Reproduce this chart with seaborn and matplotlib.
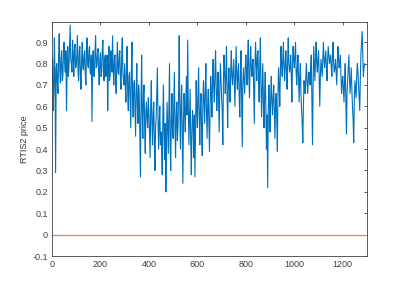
import matplotlib
matplotlib.use("Agg")
import matplotlib.pyplot as plt
import seaborn as sns
import numpy as np

# price: swing values every 5 steps (0 .. 1290)
step = 5
price = [
    0.70, 0.58, 0.92, 0.29, 0.80, 0.66, 0.94, 0.71, 0.86, 0.74,
    0.90, 0.76, 0.58, 0.88, 0.78, 0.98, 0.80, 0.91, 0.74, 0.89,
    0.79, 0.93, 0.72, 0.88, 0.68, 0.90, 0.77, 0.86, 0.70, 0.92,
    0.78, 0.88, 0.75, 0.53, 0.86, 0.74, 0.93, 0.79, 0.87, 0.70,
    0.85, 0.76, 0.91, 0.72, 0.84, 0.78, 0.58, 0.88, 0.74, 0.83,
    0.93, 0.70, 0.84, 0.66, 0.90, 0.75, 0.86, 0.68, 0.92, 0.72,
    0.80, 0.62, 0.88, 0.58, 0.76, 0.50, 0.90, 0.55, 0.72, 0.46,
    0.80, 0.52, 0.66, 0.27, 0.84, 0.45, 0.70, 0.38, 0.62, 0.50,
    0.58, 0.36, 0.72, 0.42, 0.62, 0.30, 0.55, 0.78, 0.40, 0.60,
    0.48, 0.28, 0.70, 0.35, 0.20, 0.62, 0.38, 0.80, 0.30, 0.66,
    0.45, 0.76, 0.36, 0.62, 0.50, 0.93, 0.40, 0.70, 0.24, 0.66,
    0.48, 0.74, 0.91, 0.42, 0.68, 0.28, 0.58, 0.36, 0.27, 0.72,
    0.50, 0.78, 0.42, 0.66, 0.37, 0.72, 0.52, 0.80, 0.45, 0.68,
    0.39, 0.74, 0.55, 0.82, 0.62, 0.86, 0.58, 0.76, 0.48, 0.80,
    0.64, 0.42, 0.84, 0.66, 0.88, 0.50, 0.78, 0.62, 0.86, 0.70,
    0.82, 0.60, 0.88, 0.68, 0.80, 0.55, 0.86, 0.41, 0.78, 0.66,
    0.84, 0.70, 0.91, 0.64, 0.88, 0.74, 0.82, 0.52, 0.90, 0.72,
    0.86, 0.62, 0.92, 0.55, 0.80, 0.50, 0.76, 0.40, 0.22, 0.70,
    0.48, 0.74, 0.56, 0.70, 0.45, 0.66, 0.39, 0.78, 0.60, 0.88,
    0.74, 0.90, 0.72, 0.86, 0.68, 0.92, 0.76, 0.84, 0.62, 0.88,
    0.78, 0.90, 0.70, 0.84, 0.62, 0.80, 0.58, 0.43, 0.72, 0.66,
    0.80, 0.66, 0.76, 0.70, 0.84, 0.42, 0.88, 0.72, 0.90, 0.76,
    0.86, 0.60, 0.82, 0.74, 0.90, 0.78, 0.86, 0.72, 0.88, 0.80,
    0.84, 0.74, 0.90, 0.76, 0.82, 0.70, 0.88, 0.78, 0.84, 0.66,
    0.74, 0.62, 0.80, 0.47, 0.72, 0.84, 0.66, 0.78, 0.60, 0.43,
    0.72, 0.64, 0.80, 0.70, 0.58, 0.85, 0.95, 0.74, 0.80,
]
# in-between values from the dense core of the trace (2.5 steps after each swing value)
core = [
    0.82, 0.68, 0.74, 0.78, 0.70, 0.84, 0.76, 0.82, 0.72, 0.85,
    0.80, 0.86, 0.78, 0.74, 0.88, 0.82, 0.76, 0.84, 0.86, 0.78,
    0.84, 0.76, 0.86, 0.74, 0.82, 0.78, 0.84, 0.75, 0.86, 0.80,
    0.86, 0.76, 0.84, 0.80, 0.74, 0.86, 0.78, 0.84, 0.76, 0.82,
    0.74, 0.86, 0.78, 0.82, 0.74, 0.84, 0.78, 0.72, 0.86, 0.76,
    0.78, 0.82, 0.72, 0.80, 0.76, 0.84, 0.72, 0.82, 0.76, 0.70,
    0.70, 0.78, 0.66, 0.74, 0.62, 0.76, 0.64, 0.70, 0.58, 0.68,
    0.60, 0.70, 0.48, 0.62, 0.56, 0.66, 0.50, 0.58, 0.54, 0.64,
    0.46, 0.60, 0.52, 0.56, 0.44, 0.50, 0.66, 0.54, 0.52, 0.42,
    0.40, 0.56, 0.46, 0.52, 0.44, 0.50, 0.58, 0.42, 0.54, 0.48,
    0.62, 0.50, 0.56, 0.44, 0.66, 0.58, 0.60, 0.46, 0.52, 0.58,
    0.64, 0.56, 0.60, 0.54, 0.44, 0.48, 0.52, 0.56, 0.50, 0.58,
    0.66, 0.56, 0.60, 0.48, 0.60, 0.62, 0.68, 0.58, 0.60, 0.52,
    0.60, 0.66, 0.72, 0.68, 0.76, 0.70, 0.66, 0.62, 0.68, 0.72,
    0.58, 0.72, 0.76, 0.74, 0.66, 0.70, 0.68, 0.76, 0.74, 0.76,
    0.70, 0.76, 0.74, 0.76, 0.64, 0.74, 0.62, 0.70, 0.72, 0.78,
    0.76, 0.82, 0.74, 0.80, 0.78, 0.80, 0.68, 0.78, 0.80, 0.84,
    0.72, 0.80, 0.70, 0.68, 0.62, 0.66, 0.60, 0.56, 0.58, 0.60,
    0.64, 0.62, 0.64, 0.58, 0.60, 0.54, 0.66, 0.70, 0.76, 0.80,
    0.82, 0.78, 0.80, 0.76, 0.82, 0.80, 0.78, 0.74, 0.80, 0.82,
    0.84, 0.76, 0.78, 0.72, 0.74, 0.66, 0.52, 0.60, 0.68, 0.74,
    0.72, 0.72, 0.74, 0.78, 0.62, 0.70, 0.80, 0.82, 0.80, 0.82,
    0.72, 0.74, 0.78, 0.82, 0.82, 0.82, 0.78, 0.82, 0.84, 0.82,
    0.78, 0.84, 0.80, 0.78, 0.76, 0.80, 0.82, 0.80, 0.74, 0.72,
    0.68, 0.72, 0.62, 0.66, 0.78, 0.74, 0.72, 0.68, 0.54, 0.62,
    0.68, 0.74, 0.76, 0.64, 0.74, 0.90, 0.84, 0.78,
]
baseline = [0.0, 0.0]
baseline_x = [0, 1300]

xticks = [0, 200, 400, 600, 800, 1000, 1200]
yticks = [-0.1, 0, 0.1, 0.2, 0.3, 0.4, 0.5, 0.6, 0.7, 0.8, 0.9]
ylabels = ["-0.1", "0", "0.1", "0.2", "0.3", "0.4", "0.5", "0.6", "0.7", "0.8", "0.9"]

# interleave swing and core readings
series = []
xs = []
for i, v in enumerate(price):
    series.append(v)
    xs.append(i * step)
    if i < len(core):
        series.append(core[i])
        xs.append(i * step + step / 2)

sns.set_style("white")
plt.rcParams['font.family'] = ['Liberation Sans', 'DejaVu Sans']

fig = plt.figure(figsize=(4.06, 2.88), dpi=100)
ax = fig.add_axes([0.128, 0.111, 0.776, 0.813])

sns.lineplot(x=xs, y=series, color="#0072BD", linewidth=0.8, ax=ax)
sns.lineplot(x=baseline_x, y=baseline, color="#EC8150", linewidth=0.9, ax=ax)

ax.set_xlim(0, 1300)
ax.set_ylim(-0.1, 0.995)
ax.set_xticks(xticks)
ax.set_yticks(yticks)
ax.set_yticklabels(ylabels)
ax.set_ylabel("RTIS2 price", fontsize=6.5, color="#333333", labelpad=2.5)

ax.tick_params(direction="in", length=2.5, width=0.6, labelsize=6.5,
               colors="#404040", top=True, right=True, pad=3)
for s in ax.spines.values():
    s.set_color("#404040")
    s.set_linewidth(0.6)

fig.savefig("out.png", dpi=100)
